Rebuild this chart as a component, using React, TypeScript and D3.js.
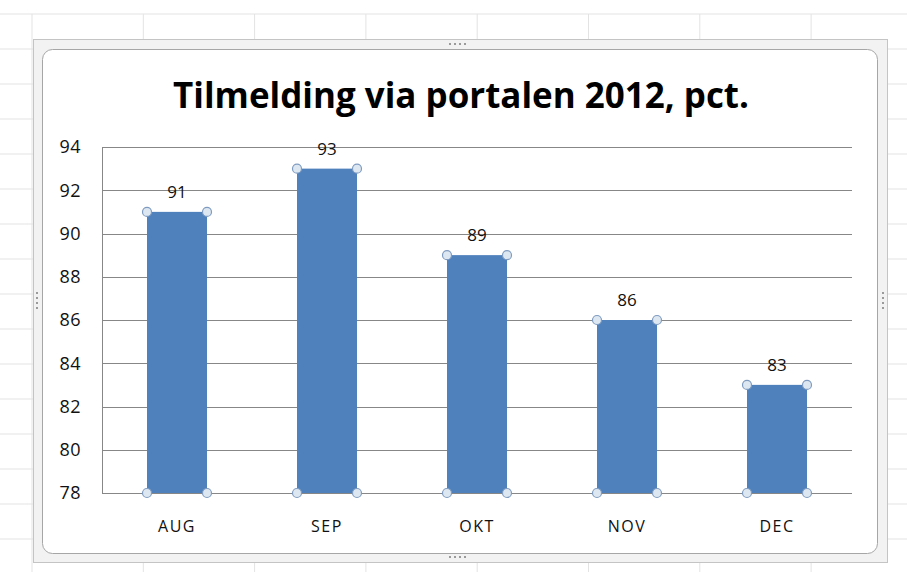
import React from "react";
import * as d3 from "d3";

const categories = ["AUG", "SEP", "OKT", "NOV", "DEC"];
const values = [91, 93, 89, 86, 83];
const yTicks = [78, 80, 82, 84, 86, 88, 90, 92, 94];
const title = "Tilmelding via portalen 2012, pct.";

const W = 907;
const H = 572;
const plot = { left: 102, right: 852, top: 147, bottom: 493 };

export default function App() {
  const x = d3
    .scaleBand<string>()
    .domain(categories)
    .range([plot.left, plot.right])
    .paddingInner(0.6)
    .paddingOuter(0.3);
  const y = d3.scaleLinear().domain([78, 94]).range([plot.bottom, plot.top]);

  const colLines = d3.range(-1, 9).map((i) => 32 + i * 111.3);
  const rowLines = d3.range(0, 17).map((i) => 14 + i * 35);

  const font = "'Open Sans', 'DejaVu Sans', sans-serif";
  const bw = x.bandwidth();

  return (
    <svg
      width={W}
      height={H}
      style={{ position: "absolute", left: 0, top: 0, background: "#fff" }}
    >
      {/* spreadsheet background grid */}
      <g stroke="#e3e3e3" strokeWidth={1}>
        {colLines.map((cx, i) => (
          <line key={"c" + i} x1={cx} x2={cx} y1={14} y2={H} />
        ))}
        {rowLines.map((ry, i) => (
          <line key={"r" + i} x1={0} x2={W} y1={ry} y2={ry} />
        ))}
      </g>

      {/* selection frame */}
      <rect x={33.5} y={39.5} width={854} height={523} fill="#f2f2f2" stroke="#c4c4c4" />
      <rect x={42.5} y={49.5} width={835} height={504} rx={10} fill="#ffffff" stroke="#a6a6a6" />
      {/* frame grip dots */}
      <g fill="#9a9a9a">
        {d3.range(4).map((i) => (
          <rect key={"t" + i} x={449 + i * 5} y={43} width={2} height={2} />
        ))}
        {d3.range(4).map((i) => (
          <rect key={"b" + i} x={449 + i * 5} y={556} width={2} height={2} />
        ))}
        {d3.range(4).map((i) => (
          <rect key={"l" + i} x={36} y={292 + i * 5} width={2} height={2} />
        ))}
        {d3.range(4).map((i) => (
          <rect key={"rr" + i} x={882} y={292 + i * 5} width={2} height={2} />
        ))}
      </g>

      {/* title */}
      <text
        x={461}
        y={108}
        textAnchor="middle"
        fontFamily={font}
        fontWeight="bold"
        fontSize={36}
        fill="#000"
        textLength={576}
        lengthAdjust="spacingAndGlyphs"
      >
        {title}
      </text>

      {/* gridlines */}
      <g stroke="#878787" strokeWidth={1}>
        {yTicks.map((t) => (
          <line
            key={t}
            x1={plot.left}
            x2={plot.right}
            y1={Math.round(y(t)) + 0.5}
            y2={Math.round(y(t)) + 0.5}
          />
        ))}
        <line
          x1={plot.left + 0.5}
          x2={plot.left + 0.5}
          y1={Math.round(y(94)) + 0.5}
          y2={Math.round(y(78)) + 0.5}
        />
      </g>

      {/* y tick labels */}
      {yTicks.map((t) => (
        <text
          key={t}
          x={81}
          y={y(t)}
          dy="0.36em"
          textAnchor="end"
          fontFamily={font}
          fontSize={18}
          letterSpacing={0.5}
          fill="#111"
        >
          {t}
        </text>
      ))}

      {/* bars */}
      {categories.map((c, i) => (
        <rect
          key={c}
          x={x(c)}
          y={y(values[i])}
          width={bw}
          height={y(78) - y(values[i])}
          fill="#4f81bd"
        />
      ))}

      {/* selection handles */}
      {categories.map((c, i) =>
        [
          [x(c)!, y(values[i])],
          [x(c)! + bw, y(values[i])],
          [x(c)!, y(78)],
          [x(c)! + bw, y(78)],
        ].map(([hx, hy], k) => (
          <circle
            key={c + k}
            cx={hx}
            cy={hy}
            r={4.5}
            fill="#dde7f2"
            stroke="#7f9cc0"
            strokeWidth={1.2}
          />
        ))
      )}

      {/* data labels */}
      {categories.map((c, i) => (
        <text
          key={c}
          x={x(c)! + bw / 2}
          y={y(values[i]) - 14}
          textAnchor="middle"
          fontFamily={font}
          fontSize={17}
          fill="#111"
        >
          {values[i]}
        </text>
      ))}

      {/* category labels */}
      {categories.map((c) => (
        <text
          key={c}
          x={x(c)! + bw / 2}
          y={532}
          textAnchor="middle"
          fontFamily={font}
          fontSize={16}
          letterSpacing={1.5}
          fill="#111"
        >
          {c}
        </text>
      ))}
    </svg>
  );
}
